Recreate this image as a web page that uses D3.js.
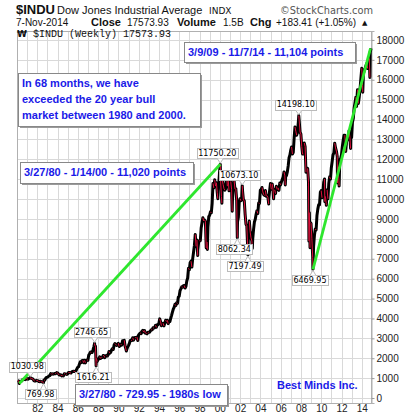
<!DOCTYPE html>
<html><head><meta charset="utf-8">
<script src="https://cdn.jsdelivr.net/npm/d3@7"></script>
<style>body{margin:0;background:#fff}svg{display:block}</style>
</head><body>
<svg id="c" width="419" height="417"></svg>
<script>
// ---- DATA ----
const startYear = 1980;
const closes1980s = [
 [875,863,786,817,851,868,935,933,932,925,993,964],
 [947,975,1004,998,992,977,953,882,850,853,889,875],
 [871,825,823,848,820,812,809,901,896,992,1039,1047],
 [1076,1113,1130,1226,1200,1222,1199,1216,1233,1225,1276,1259],
 [1221,1155,1165,1171,1105,1132,1115,1224,1207,1207,1189,1212],
 [1287,1284,1267,1258,1315,1336,1348,1334,1329,1375,1472,1547],
 [1571,1709,1819,1784,1877,1893,1775,1898,1768,1878,1914,1896],
 [2158,2224,2305,2286,2292,2419,2572,2663,2596,1994,1834,1939],
 [1958,2072,1988,2032,2031,2142,2129,2032,2113,2149,2114,2169],
 [2342,2258,2294,2419,2480,2440,2661,2737,2693,2645,2706,2753]];
const closes1990s = [
 [2591,2627,2707,2657,2877,2881,2905,2615,2453,2442,2560,2634],
 [2736,2882,2914,2888,3028,2907,3025,3044,3017,3069,2895,3169],
 [3224,3268,3236,3359,3397,3319,3394,3257,3272,3226,3306,3301],
 [3310,3370,3435,3428,3527,3516,3540,3651,3555,3681,3684,3754],
 [3978,3832,3636,3682,3758,3625,3765,3913,3843,3908,3739,3834],
 [3844,4011,4158,4321,4465,4556,4709,4647,4789,4756,5075,5117],
 [5395,5486,5587,5569,5643,5655,5529,5616,5882,6029,6522,6448],
 [6813,6878,6584,7009,7331,7673,8223,7622,7945,7442,7823,7908],
 [7907,8546,8800,9063,8900,8952,8883,7539,7843,8592,9117,9181],
 [9359,9307,9786,10789,10560,10971,10655,10829,10337,10729,10878,11497]];
const closes2000s = [
 [10941,10128,10922,10734,10522,10448,10522,11215,10651,10971,10415,10788],
 [10887,10495,9879,10735,10912,10502,10523,9950,8848,9075,9852,10022],
 [9920,10106,10404,9946,9925,9243,8737,8664,7592,8397,8896,8342],
 [8054,7891,7992,8480,8850,8985,9234,9416,9275,9801,9782,10454],
 [10488,10584,10358,10226,10188,10435,10140,10174,10080,10027,10428,10783],
 [10490,10766,10504,10193,10467,10275,10641,10482,10569,10440,10806,10718],
 [10865,10993,11109,11367,11168,11150,11186,11381,11679,12081,12221,12463],
 [12622,12269,12354,13063,13628,13409,13212,13358,13896,13930,13372,13265],
 [12650,12266,12263,12820,12638,11350,11378,11544,10851,9325,8829,8776],
 [8001,7063,7609,8168,8500,8447,9172,9496,9712,9713,10345,10428]];
const closes2010s = [
 [10067,10325,10857,11009,10137,9774,10466,10015,10788,11118,11006,11578],
 [11892,12226,12320,12811,12570,12414,12143,11614,10913,11955,12046,12218],
 [12633,12952,13212,13214,12393,12880,13009,13091,13437,13096,13026,13104],
 [13861,14054,14579,14840,15116,14910,15500,14810,15130,15546,16086,16577],
 [15699,16322,16458,16581,16717,16827,16563,17098,17043,17391,17574]];

// labelled turning points
const pivotDates  = [1980.235, 1981.31, 1982.61, 1987.65, 1987.80, 2000.04, 2001.72, 2002.21, 2002.77, 2007.78, 2009.18];
const pivotValues = [729.95, 1030.98, 769.98, 2746.65, 1616.21, 11750.20, 8062.34, 10673.10, 7197.49, 14198.10, 6469.95];
const pivotSide   = [null, "above", "below", "above", "below", "above", "below", "above", "below", "above", "below"];

// other intra-month swings
const swingDates  = [1990.78, 1997.82, 1998.77, 1999.80, 2000.20, 2001.22, 2003.20, 2004.82, 2005.30, 2006.45, 2008.78, 2008.89, 2010.35, 2010.50, 2011.60, 2011.76, 2012.89, 2013.48, 2014.09, 2014.79];
const swingValues = [2365, 7161, 7467, 10019, 9796, 9389, 7524, 9750, 10012, 10706, 7882, 7552, 9870, 9686, 10810, 10655, 12542, 14660, 15372, 16117];

// trend lines [date0, value0, date1, value1]
const trend1 = [1980.235, 729.95, 2000.04, 11750.20];
const trend2 = [2009.18, 6469.95, 2014.85, 17573.93];

const yTicks = d3.range(0, 18001, 1000);
const xLabelYears = d3.range(1982, 2015, 2);
const gridYears = d3.range(1981, 2015, 1);

const notes = [
  {lines:["3/9/09 - 11/7/14 - 11,104 points"], x:184, y:42, w:171, h:20},
  {lines:["In 68 months, we have","exceeded the 20 year bull","market between 1980 and 2000."], x:18, y:73, w:182, h:53},
  {lines:["3/27/80 - 1/14/00 - 11,020 points"], x:20, y:162, w:173, h:21},
  {lines:["3/27/80 - 729.95 - 1980s low"], x:75, y:384, w:152, h:21}
];

// ---- CHART ----
const svg = d3.select("#c");
const L = 17, R = 371, T = 31, B = 403;
const x = d3.scaleLinear().domain([1980, 2015]).range([L, R + 1]);
const y = d3.scaleLinear().domain([-250, 18450]).range([B, T]);

// series
const series = [];
[closes1980s, closes1990s, closes2000s, closes2010s].forEach((dec, di) => {
  dec.forEach((row, ri) => row.forEach((v, m) => {
    series.push({d: startYear + di*10 + ri + (m+1)/12 - 0.01, v});
  }));
});
pivotDates.forEach((d,i) => series.push({d, v: pivotValues[i]}));
swingDates.forEach((d,i) => series.push({d, v: swingValues[i]}));
series.sort((a,b) => a.d - b.d);

// grid
const g = svg.append("g");
g.selectAll(".hg").data(yTicks).join("line")
  .attr("x1", L).attr("x2", R).attr("y1", d => Math.round(y(d))+0.5).attr("y2", d => Math.round(y(d))+0.5)
  .attr("stroke", "#d9d9d9");
g.selectAll(".vg").data(gridYears).join("line")
  .attr("y1", T).attr("y2", B).attr("x1", d => Math.round(x(d))+0.5).attr("x2", d => Math.round(x(d))+0.5)
  .attr("stroke", "#d9d9d9");

// frame
svg.append("rect").attr("x", L+0.5).attr("y", T+0.5).attr("width", R-L).attr("height", B-T)
  .attr("fill", "none").attr("stroke", "#b0b0b0");

// right axis
const yAxis = svg.append("g").attr("transform", `translate(${R+0.5},0)`)
  .call(d3.axisRight(y).tickValues(yTicks).tickSize(3).tickPadding(2).tickFormat(d3.format("d")));
yAxis.select(".domain").attr("stroke", "#b0b0b0");
yAxis.selectAll(".tick line").attr("stroke", "#999");
yAxis.selectAll("text").attr("font-family", "Liberation Sans, Arial, sans-serif").attr("font-size", 10).attr("fill", "#222");

// bottom axis
const xAxis = svg.append("g").attr("transform", `translate(0,${B+0.5})`)
  .call(d3.axisBottom(x).tickValues(xLabelYears).tickSize(0).tickPadding(1.5).tickFormat(d => String(d).slice(2)));
xAxis.select(".domain").remove();
xAxis.selectAll("text").attr("font-family", "Liberation Sans, Arial, sans-serif").attr("font-size", 10).attr("fill", "#222");

// price line
const line = d3.line().x(d => x(d.d)).y(d => y(d.v));
svg.append("path").datum(series).attr("d", line).attr("fill", "none")
  .attr("stroke", "#000").attr("stroke-width", 3).attr("stroke-linejoin", "round");
const downs = [];
for (let i = 1; i < series.length; i++) if (series[i].v < series[i-1].v) downs.push([series[i-1], series[i]]);
svg.selectAll(".dn").data(downs).join("path")
  .attr("d", d => line(d)).attr("fill", "none").attr("stroke", "#e0103c").attr("stroke-width", 1);

// trend lines
[trend1, trend2].forEach(t => {
  svg.append("line").attr("x1", x(t[0])).attr("y1", y(t[1])).attr("x2", x(t[2])).attr("y2", y(t[3]))
    .attr("stroke", "#2ee62e").attr("stroke-width", 2.8);
});

// pivot labels
const lf = "DejaVu Sans, Verdana, sans-serif";
pivotDates.forEach((d, i) => {
  if (!pivotSide[i]) return;
  const px = x(d), py = y(pivotValues[i]);
  const above = pivotSide[i] === "above";
  const cx = px - 3, cy = py + (above ? -11 : 11);
  const txt = d3.format(".2f")(pivotValues[i]);
  const lg = svg.append("g");
  const t = lg.append("text").attr("x", cx).attr("y", cy).attr("text-anchor", "middle")
    .attr("dy", "0.36em").attr("font-family", lf).attr("font-size", 8).attr("fill", "#000").text(txt);
  const bb = t.node().getBBox();
  lg.insert("rect", "text").attr("x", Math.round(bb.x - 1.5)+0.5).attr("y", Math.round(cy - 5)+0.5)
    .attr("width", Math.round(bb.width + 3)).attr("height", 10).attr("fill", "#fff").attr("stroke", "#bbb");
  const ey = above ? Math.round(cy + 5)+0.5 : Math.round(cy - 5)+0.5;
  lg.insert("path", "text").attr("d", `M${px-3},${ey} L${px},${py + (above?-1:1)} L${px+3},${ey}`)
    .attr("fill", "#fff").attr("stroke", "#bbb");
});

// notes
const nf = "Liberation Sans, Arial, sans-serif";
notes.forEach(n => {
  svg.append("rect").attr("x", n.x+2).attr("y", n.y+2).attr("width", n.w).attr("height", n.h).attr("fill", "#9a9a9a");
  svg.append("rect").attr("x", n.x+0.5).attr("y", n.y+0.5).attr("width", n.w).attr("height", n.h)
    .attr("fill", "#fff").attr("stroke", "#888");
  n.lines.forEach((s, k) => {
    svg.append("text").attr("x", n.x+4).attr("y", n.y + 14 + k*16)
      .attr("font-family", nf).attr("font-weight", "bold").attr("font-size", 11).attr("fill", "#1a1ae8").text(s);
  });
});
svg.append("text").attr("x", 277).attr("y", 389).attr("font-family", nf).attr("font-weight", "bold")
  .attr("font-size", 11).attr("fill", "#1a1ae8").text("Best Minds Inc.");

// header
const hf = "Liberation Sans, Arial, sans-serif";
const head = [
  {t:"$INDU", x:16, y:14, s:13, w:"bold"},
  {t:"Dow Jones Industrial Average", x:57, y:14, s:11},
  {t:"INDX", x:209, y:14, s:9, f:"DejaVu Sans, sans-serif"},
  {t:"©StockCharts.com", x:280, y:14, s:9.8, f:"DejaVu Sans, sans-serif", c:"#555"},
  {t:"7-Nov-2014", x:16, y:26, s:10},
  {t:"Close", x:91, y:26, s:11, w:"bold"},
  {t:"17573.93", x:127, y:26, s:10},
  {t:"Volume", x:177, y:26, s:11, w:"bold"},
  {t:"1.5B", x:223, y:26, s:10},
  {t:"Chg", x:250, y:26, s:11, w:"bold"},
  {t:"+183.41 (+1.05%)", x:276, y:26, s:10},
  {t:"▲", x:362, y:25, s:7, f:"DejaVu Sans, sans-serif"},
  {t:"₩", x:17, y:37, s:9, f:"DejaVu Sans, sans-serif", w:"bold"},
  {t:"$INDU (Weekly) 17573.93", x:33, y:37, s:10, f:"Liberation Mono, DejaVu Sans Mono, monospace"}
];
head.forEach(h => svg.append("text").attr("x", h.x).attr("y", h.y).attr("font-family", h.f || hf)
  .attr("font-size", h.s).attr("font-weight", h.w || "normal").attr("fill", h.c || "#111").text(h.t));
</script>
</body></html>
